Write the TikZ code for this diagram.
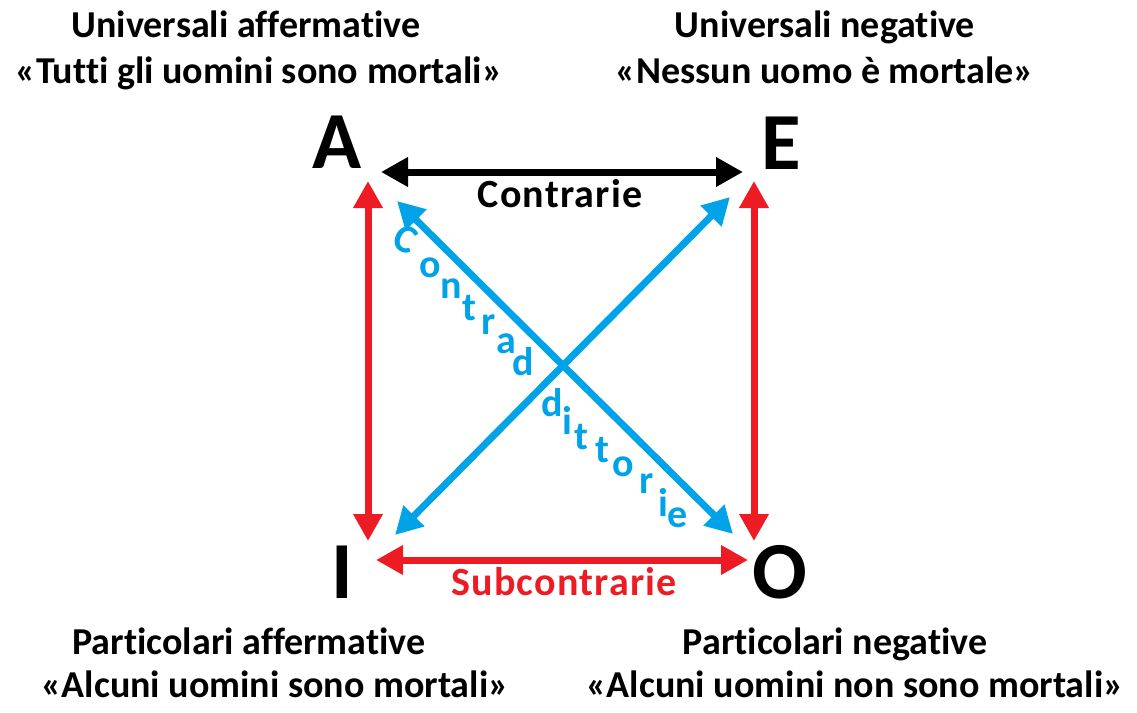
\documentclass[tikz,border=0pt]{standalone}
\usepackage{fontspec}
\setmainfont{Carlito}[Ligatures=NoCommon]
\usetikzlibrary{arrows.meta}
\definecolor{pred}{RGB}{237,28,36}
\definecolor{pblue}{RGB}{0,162,232}
\tikzset{
  txt/.style={font=\bfseries\fontsize{38}{46}\selectfont, inner sep=0pt, anchor=base},
  lbl/.style={font=\bfseries\fontsize{40}{46}\selectfont\addfontfeature{LetterSpace=3}, inner sep=0pt, anchor=base},
  big/.style={font=\bfseries\fontsize{81}{90}\selectfont, inner sep=0pt, anchor=base},
  lt/.style={font=\bfseries\fontsize{40}{44}\selectfont, inner sep=0pt, text=pblue},
  conn/.style={line width=7pt, {Triangle[length=27pt,width=28pt]}-{Triangle[length=27pt,width=28pt]}},
}
\begin{document}
\begin{tikzpicture}[x=1pt,y=-1pt]
\useasboundingbox (0,0) rectangle (1137,712);
% titles
\node[txt] (ua1) at (246,37) {Universali affermative};
\node[txt] (ua2) at (259,83) {«Tutti gli uomini sono mortali»};
\node[txt] (un1) at (825,37) {Universali negative};
\node[txt] (un2) at (825,83) {«Nessun uomo è mortale»};
\node[txt] (pa1) at (249,654) {Particolari affermative};
\node[txt] (pa2) at (275,697) {«Alcuni uomini sono mortali»};
\node[txt] (pn1) at (835,654) {Particolari negative};
\node[txt] (pn2) at (855,697) {«Alcuni uomini non sono mortali»};
% corner letters
\node[big] (A) at (337,168) {A};
\node[big] (E) at (781,169) {E};
\node[big] (I) at (342,598) {I};
\node[big] (O) at (780,598) {O};
% arrow end points
\coordinate (aE) at (381,172);
\coordinate (eA) at (743,172);
\coordinate (aI) at (368,181);
\coordinate (iA) at (368,541);
\coordinate (eO) at (754,181);
\coordinate (oE) at (754,541);
\coordinate (iO) at (376,560);
\coordinate (oI) at (748,560);
\coordinate (aO) at (397,201);
\coordinate (oA) at (733,534);
\coordinate (eI) at (730,197);
\coordinate (iE) at (395,535);
% connectors
\draw[conn, pblue] (aO) -- (oA);
\draw[conn, pblue] (eI) -- (iE);
\draw[conn, black] (aE) -- (eA);
\draw[conn, pred] (aI) -- (iA);
\draw[conn, pred] (eO) -- (oE);
\draw[conn, pred] (iO) -- (oI);
% labels
\node[lbl] (contr) at (560,207) {Contrarie};
\node[lbl, text=pred] (subc) at (564,595) {Subcontrarie};
% contraddittorie letters
\node[lt, rotate=-25] (c1) at (406,239) {C};
\node[lt] (c2) at (430,268) {o};
\node[lt] (c3) at (451,289) {n};
\node[lt] (c4) at (469,308) {t};
\node[lt] (c5) at (489,325) {r};
\node[lt] (c6) at (506,344) {a};
\node[lt] (c7) at (523,362) {d};
\node[lt] (c8) at (552,403) {d};
\node[lt] (c9) at (567,420) {i};
\node[lt] (c10) at (581,437) {t};
\node[lt] (c11) at (602,450) {t};
\node[lt] (c12) at (623,467) {o};
\node[lt] (c13) at (647,484) {r};
\node[lt] (c14) at (663,502) {i};
\node[lt] (c15) at (678,518) {e};
\end{tikzpicture}
\end{document}
